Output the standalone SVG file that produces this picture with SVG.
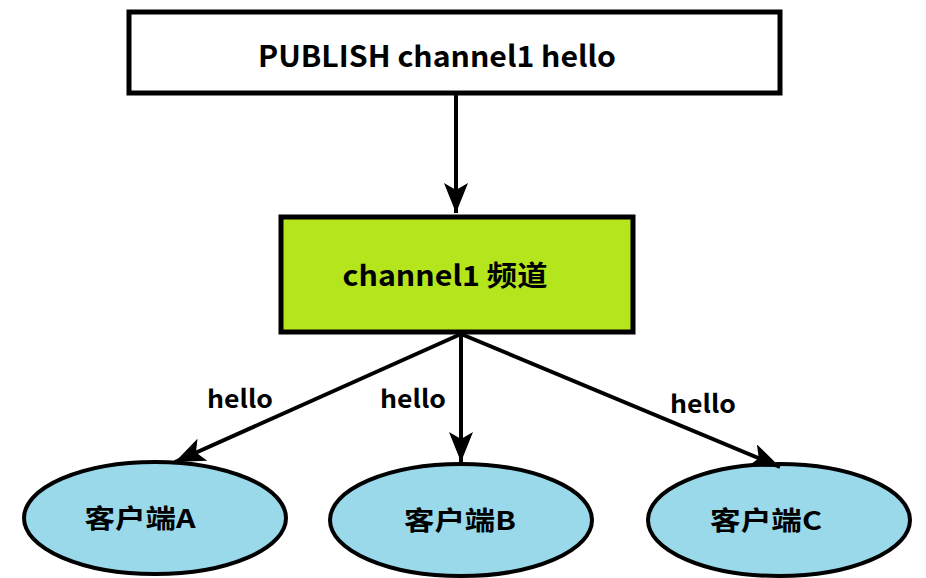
<svg xmlns="http://www.w3.org/2000/svg" width="926" height="578" viewBox="0 0 926 578">
<defs>
<marker id="ah" markerUnits="userSpaceOnUse" markerWidth="32" markerHeight="26" refX="30" refY="12" orient="auto">
<path d="M0,0 L30,12 L0,24 L7,12 Z" fill="#000"/>
</marker>
<style>
.t{font-family:"Noto Sans CJK SC","Noto Sans",sans-serif;font-weight:bold;fill:#000;text-anchor:middle;dominant-baseline:central}
.c{stroke:#000;stroke-width:4;fill:none;marker-end:url(#ah)}
.ell{fill:#99d9ea;stroke:#000;stroke-width:4}
</style>
</defs>
<rect width="926" height="578" fill="#fff"/>
<g id="publish">
<rect x="129" y="12" width="651" height="81" fill="#fff" stroke="#000" stroke-width="5"/>
<text class="t" x="437" y="54" font-size="29" textLength="358" lengthAdjust="spacingAndGlyphs">PUBLISH channel1 hello</text>
</g>
<g id="channel">
<rect x="281" y="217" width="352" height="115" fill="#b5e61d" stroke="#000" stroke-width="5"/>
<text class="t" x="445" y="274" font-size="28" textLength="205" lengthAdjust="spacingAndGlyphs">channel1 频道</text>
</g>
<g id="clientA">
<ellipse class="ell" cx="155" cy="518" rx="131" ry="56"/>
<text class="t" x="140" y="516" font-size="26" textLength="111" lengthAdjust="spacingAndGlyphs">客户端A</text>
</g>
<g id="clientB">
<ellipse class="ell" cx="461" cy="520" rx="131" ry="56"/>
<text class="t" x="460" y="518" font-size="26" textLength="112" lengthAdjust="spacingAndGlyphs">客户端B</text>
</g>
<g id="clientC">
<ellipse class="ell" cx="779" cy="520" rx="131" ry="56"/>
<text class="t" x="766" y="518" font-size="26" textLength="112" lengthAdjust="spacingAndGlyphs">客户端C</text>
</g>
<g id="connectors">
<line class="c" x1="456" y1="95" x2="456" y2="213"/>
<line class="c" x1="461" y1="334" x2="175" y2="462"/>
<line class="c" x1="461" y1="334" x2="461" y2="462"/>
<line class="c" x1="461" y1="334" x2="780" y2="467"/>
<text class="t" x="240" y="397" font-size="25" textLength="66" lengthAdjust="spacingAndGlyphs">hello</text>
<text class="t" x="413" y="397" font-size="25" textLength="66" lengthAdjust="spacingAndGlyphs">hello</text>
<text class="t" x="703" y="402" font-size="25" textLength="66" lengthAdjust="spacingAndGlyphs">hello</text>
</g>
</svg>
